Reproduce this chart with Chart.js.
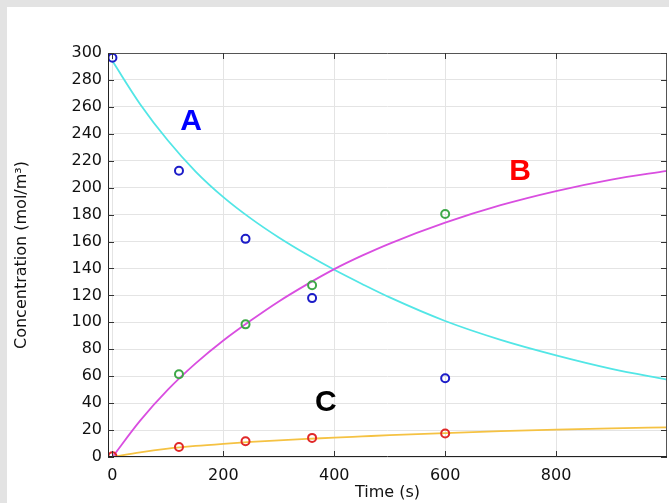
<!DOCTYPE html>
<html>
<head>
<meta charset="utf-8">
<script src="https://cdn.jsdelivr.net/npm/chart.js@4/dist/chart.umd.min.js"></script>
<style>
  html, body { margin: 0; padding: 0; background: #e3e3e3; width: 669px; height: 503px; overflow: hidden; }
  #panel { position: absolute; left: 7px; top: 7px; width: 662px; height: 496px; background: #ffffff; }
  canvas { display: block; }
</style>
</head>
<body>
<div id="panel"><canvas id="c" width="662" height="496"></canvas></div>
<script>
// ---- data ----
const curveTime = [0, 50, 100, 150, 200, 250, 300, 350, 400, 450, 500, 600, 700, 800, 900, 1000];
const curveA = [294, 262, 235, 212, 193, 177, 163, 150.5, 139, 128.5, 118.5, 101, 87, 75.5, 65.5, 57.5];
const curveB = [0, 27, 50, 69.5, 86.5, 101.5, 115.5, 128, 139.5, 149.5, 158.5, 174, 187, 197.5, 206, 212.5];
const curveC = [0, 3.5, 6.2, 8.2, 9.8, 11.2, 12.4, 13.4, 14.4, 15.3, 16.2, 17.8, 19.2, 20.4, 21.3, 22];

const measTimeA = [0, 120, 240, 360, 600];
const measA = [296.5, 212.5, 162, 118, 58.5];
const measTimeB = [120, 240, 360, 600];
const measB = [61.5, 98.5, 127.5, 180.5];
const measTimeC = [0, 120, 240, 360, 600];
const measC = [0.5, 7.4, 11.7, 14.2, 17.4];

const labelText = ['A', 'B', 'C'];
const labelTime = [142, 735, 385];
const labelConc = [242.5, 205.5, 34.5];

const xTicks = [0, 200, 400, 600, 800];
const yTicks = [0, 20, 40, 60, 80, 100, 120, 140, 160, 180, 200, 220, 240, 260, 280, 300];

// ---- build ----
const pts = (xs, ys) => xs.map((t, i) => ({ x: t, y: ys[i] }));
const labelColors = ['#0000ff', '#ff0000', '#000000'];

const framePlugin = {
  id: 'frame',
  afterDraw(chart) {
    const { ctx, chartArea: a, scales: { x, y } } = chart;
    ctx.save();
    ctx.lineWidth = 1;
    ctx.strokeStyle = '#555555';
    ctx.beginPath();
    ctx.moveTo(a.left, a.top + 0.5); ctx.lineTo(a.right, a.top + 0.5);
    ctx.moveTo(a.right - 0.5, a.top); ctx.lineTo(a.right - 0.5, a.bottom);
    ctx.stroke();
    ctx.strokeStyle = '#222222';
    ctx.beginPath();
    ctx.moveTo(a.left + 0.5, a.top); ctx.lineTo(a.left + 0.5, a.bottom);
    ctx.moveTo(a.left, a.bottom - 0.5); ctx.lineTo(a.right, a.bottom - 0.5);
    ctx.stroke();
    const L = 6;
    ctx.strokeStyle = '#333333';
    ctx.beginPath();
    xTicks.forEach(v => {
      const px = Math.round(x.getPixelForValue(v)) + 0.5;
      ctx.moveTo(px, a.bottom); ctx.lineTo(px, a.bottom - L);
      ctx.moveTo(px, a.top); ctx.lineTo(px, a.top + L);
    });
    yTicks.forEach(v => {
      const py = Math.round(y.getPixelForValue(v)) + 0.5;
      ctx.moveTo(a.left, py); ctx.lineTo(a.left + L, py);
      ctx.moveTo(a.right, py); ctx.lineTo(a.right - L, py);
    });
    ctx.stroke();
    ctx.font = 'bold 30px "Liberation Sans", Arial, sans-serif';
    ctx.textAlign = 'center';
    ctx.textBaseline = 'alphabetic';
    labelText.forEach((txt, i) => {
      ctx.fillStyle = labelColors[i];
      ctx.fillText(txt, x.getPixelForValue(labelTime[i]), y.getPixelForValue(labelConc[i]));
    });
    ctx.restore();
  }
};

const marker = (data, color) => ({
  type: 'scatter', data, showLine: false,
  pointRadius: 4, pointHoverRadius: 4, pointBorderWidth: 2,
  pointBackgroundColor: 'rgba(0,0,0,0)', pointBorderColor: color, borderColor: color
});
const curve = (data, color) => ({
  type: 'line', data, borderColor: color, borderWidth: 1.8, pointRadius: 0,
  cubicInterpolationMode: 'monotone', fill: false
});

new Chart(document.getElementById('c'), {
  data: {
    datasets: [
      marker(pts(measTimeC, measC), '#e02828'),
      marker(pts(measTimeB, measB), '#3ea848'),
      marker(pts(measTimeA, measA), '#1c1cc8'),
      curve(pts(curveTime, curveC), '#f5c243'),
      curve(pts(curveTime, curveB), '#d94ee0'),
      curve(pts(curveTime, curveA), '#52e6e6')
    ]
  },
  options: {
    responsive: false,
    devicePixelRatio: 1,
    animation: false,
    layout: { autoPadding: false, padding: { top: 46, right: 2, left: 0, bottom: 0 } },
    plugins: { legend: { display: false }, tooltip: { enabled: false } },
    scales: {
      x: {
        type: 'linear', min: -8, max: 1000,
        afterBuildTicks: s => { s.ticks = xTicks.map(v => ({ value: v })); },
        afterFit: s => { s.height = 46; s.paddingLeft = 0; s.paddingRight = 0; },
        grid: { color: '#e4e4e4', drawTicks: false },
        border: { display: false },
        ticks: { color: '#111', padding: 9, font: { family: 'DejaVu Sans', size: 16 }, maxRotation: 0 },
        title: { display: true, text: 'Time (s)', color: '#111', font: { family: 'DejaVu Sans', size: 16 }, padding: { top: 0, bottom: 1 } }
      },
      y: {
        type: 'linear', min: 0, max: 300,
        afterBuildTicks: s => { s.ticks = yTicks.map(v => ({ value: v })); },
        afterFit: s => { s.width = 101; s.paddingTop = 0; s.paddingBottom = 0; },
        grid: { color: '#e4e4e4', drawTicks: false },
        border: { display: false },
        ticks: { color: '#111', padding: 6, font: { family: 'DejaVu Sans', size: 16 } },
        title: { display: true, text: 'Concentration (mol/m³)', color: '#111', font: { family: 'DejaVu Sans', size: 16 }, padding: { top: 5, bottom: 0 } }
      }
    }
  },
  plugins: [framePlugin]
});
</script>
</body>
</html>
